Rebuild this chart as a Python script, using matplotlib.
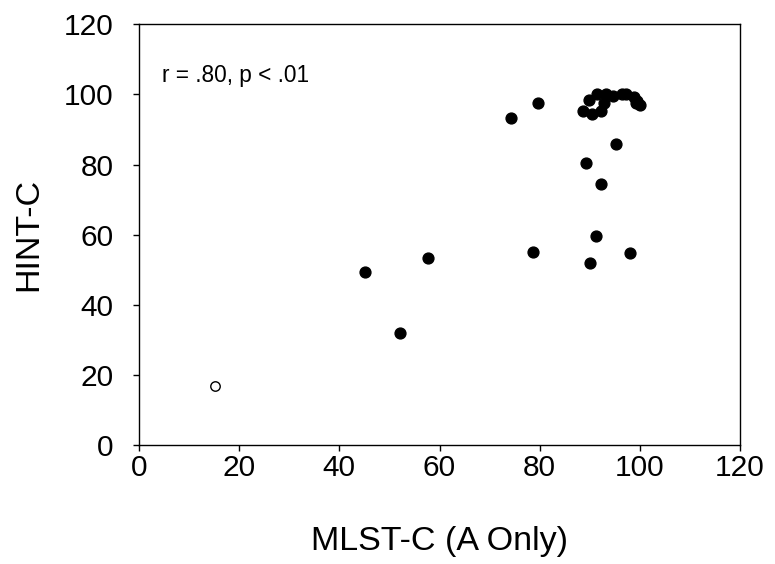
import numpy as np
import matplotlib
matplotlib.use("Agg")
import matplotlib.pyplot as plt

plt.rcParams['font.family'] = ['Liberation Sans', 'DejaVu Sans']

# 塗りつぶし点 (MLST-C, HINT-C)
mlst = [88.7, 90.4, 92.3, 92.9, 89.9, 91.5, 93.3, 94.7, 96.5, 97.3, 98.8, 99.2, 100.0, 99.5,
        74.3, 79.6, 95.2, 89.3, 92.2, 91.3, 78.7, 90.0, 98.0, 45.2, 57.6, 52.2]
hint = [95.2, 94.5, 95.4, 97.4, 98.5, 100.0, 100.0, 99.4, 100.0, 100.0, 99.2, 97.5, 97.0, 98.0,
        93.2, 97.4, 85.8, 80.5, 74.3, 59.6, 55.1, 51.9, 54.9, 49.2, 53.3, 31.9]
# 白抜き点
mlst_open = [15.1]
hint_open = [16.8]

xticks = [0, 20, 40, 60, 80, 100, 120]
yticks = [0, 20, 40, 60, 80, 100, 120]

fig = plt.figure(figsize=(7.75, 5.64), dpi=100)
ax = fig.add_axes([0.1794, 0.211, 0.7755, 0.746])

ax.plot(mlst, hint, 'o', color='black', markersize=7.8, linestyle='none')
ax.plot(mlst_open, hint_open, 'o', markerfacecolor='white', markeredgecolor='black',
        markersize=6.8, markeredgewidth=1.0, linestyle='none')

ax.set_xlim(0, 120)
ax.set_ylim(0, 120)
ax.set_xticks(xticks)
ax.set_yticks(yticks)
ax.tick_params(direction='out', length=4.5, width=1, labelsize=21.5)
ax.tick_params(axis='x', pad=2)
ax.tick_params(axis='y', pad=14)
for s in ax.spines.values():
    s.set_linewidth(1)

ax.set_xlabel('MLST-C (A Only)', fontsize=24.5)
ax.set_ylabel('HINT-C', fontsize=24.5)
ax.xaxis.set_label_coords(0.5, -0.192)
ax.yaxis.set_label_coords(-0.157, 0.5)

ax.text(4.6, 105.4, 'r = .80, p < .01', fontsize=16.3, ha='left', va='center')

fig.savefig('out.png', dpi=100)
